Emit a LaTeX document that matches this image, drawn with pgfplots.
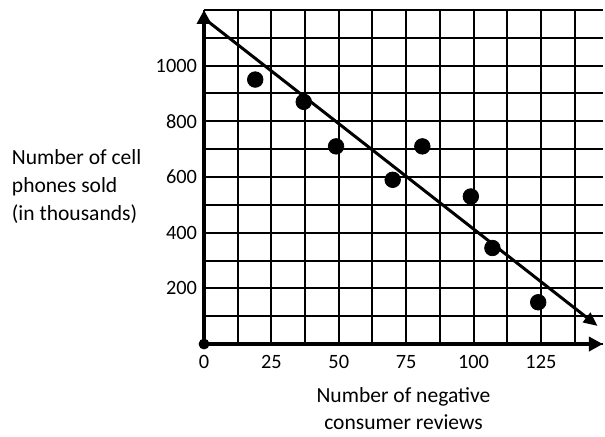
\documentclass[border=0pt]{standalone}
\usepackage{pgfplots}
\pgfplotsset{compat=1.18}
\usepackage{fontspec}
\setmainfont{Carlito}
\usetikzlibrary{arrows.meta}
\begin{document}
\begin{tikzpicture}
\begin{axis}[
  name=ax,
  scale only axis,
  width=200pt, height=167.5pt,
  xmin=0, xmax=148, ymin=0, ymax=1200,
  axis lines=left,
  axis line style={line width=2.1pt, -{Triangle[length=7pt,width=7pt]}},
  xtick={0,12.5,...,137.5},
  xticklabels={0,,25,,50,,75,,100,,125,},
  ytick={0,100,...,1200},
  yticklabels={,,200,,400,,600,,800,,1000,,},
  major tick length=0pt,
  grid=major,
  grid style={black, line width=1pt},
  /pgf/number format/assume math mode=true,
  tick label style={font=\fontsize{10.2}{12}\selectfont},
  xticklabel style={yshift=-2pt},
  yticklabel style={xshift=0pt},
  xlabel={Number of negative\\consumer reviews},
  xlabel style={align=center, font=\fontsize{10.8}{14}\selectfont, yshift=-2.5pt},
  ylabel={Number of cell\\phones sold\\(in thousands)},
  ylabel style={rotate=-90, align=left, anchor=west, inner xsep=6pt,
    font=\fontsize{10.8}{14.2}\selectfont,
    at={(rel axis cs:0,0.472)}, xshift=-102.5pt},
  clip=false,
]
\addplot[line width=1.5pt, -{Triangle[length=7pt,width=6pt]}] coordinates {(0,1170) (146,65)};
\addplot[only marks, mark=*, mark size=3.9pt, black] coordinates {
(19,950) (37,870) (49,710) (70,590) (81,710) (99,530) (107,345) (124,150)};
\addplot[only marks, mark=*, mark size=2.5pt, black] coordinates {(0,0)};
\end{axis}
\path (ax.north) ++(0,5pt);
\end{tikzpicture}
\end{document}
